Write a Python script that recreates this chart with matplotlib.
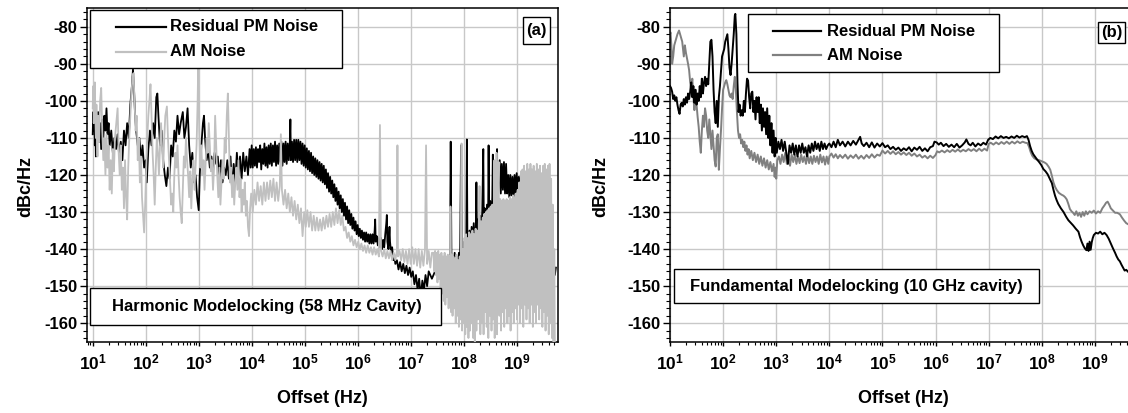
import math
import matplotlib
matplotlib.use("Agg")
import matplotlib.pyplot as plt
from matplotlib.patches import Rectangle
from matplotlib.lines import Line2D
from matplotlib.ticker import LogLocator, MultipleLocator, FuncFormatter, NullFormatter

plt.rcParams["font.family"] = ["Liberation Sans", "DejaVu Sans"]
plt.rcParams["font.weight"] = "bold"
plt.rcParams["axes.unicode_minus"] = False
plt.rcParams["mathtext.fontset"] = "custom"
plt.rcParams["mathtext.rm"] = "Liberation Sans:bold"
plt.rcParams["mathtext.it"] = "Liberation Sans:bold"
plt.rcParams["mathtext.bf"] = "Liberation Sans:bold"

# ---- data: (log10 offset [Hz], dBc/Hz) ----
# (a) harmonic modelocking, 58 MHz cavity
PM_A = [
    (1.00, -109), (1.01, -103), (1.02, -108), (1.03, -101), (1.04, -112), (1.05, -106), (1.06, -115),
    (1.07, -104), (1.09, -110), (1.10, -103), (1.12, -111), (1.14, -106), (1.16, -113), (1.18, -105),
    (1.20, -110), (1.22, -104), (1.24, -108), (1.26, -102), (1.28, -109), (1.30, -106), (1.32, -112),
    (1.35, -108), (1.38, -114), (1.41, -110), (1.44, -113), (1.47, -109), (1.50, -115), (1.53, -111),
    (1.56, -116), (1.59, -108), (1.62, -112), (1.65, -106), (1.68, -110), (1.71, -101), (1.74, -96),
    (1.76, -91.5), (1.78, -97), (1.80, -104), (1.82, -108), (1.85, -112), (1.88, -110), (1.91, -116),
    (1.94, -112), (1.97, -118), (2.00, -116), (2.02, -122), (2.05, -113), (2.08, -108), (2.11, -112),
    (2.14, -106), (2.17, -110), (2.20, -99), (2.22, -98), (2.24, -104), (2.27, -112), (2.30, -108),
    (2.33, -116), (2.36, -120), (2.39, -123), (2.42, -118), (2.45, -121), (2.48, -112), (2.51, -115),
    (2.54, -108), (2.57, -111), (2.60, -104), (2.63, -109), (2.66, -106), (2.70, -103), (2.73, -110),
    (2.76, -107), (2.79, -102), (2.82, -112), (2.85, -118), (2.88, -114), (2.91, -122), (2.94, -120),
    (2.97, -126), (3.00, -129.5), (3.02, -120), (3.05, -112), (3.08, -106), (3.10, -104), (3.12, -110),
    (3.15, -116), (3.18, -113), (3.21, -118), (3.24, -115), (3.27, -119), (3.30, -114), (3.33, -117),
    (3.36, -115), (3.39, -121), (3.42, -116), (3.45, -122), (3.48, -118), (3.51, -120), (3.54, -116),
    (3.57, -121), (3.60, -115), (3.63, -124), (3.66, -117), (3.69, -122), (3.72, -114), (3.75, -120),
    (3.78, -115), (3.81, -121), (3.84, -114), (3.87, -119), (3.90, -115), (3.93, -120), (3.96, -113),
    (3.98, -118),
    (4.00, -112), (4.02, -118), (4.04, -113), (4.06, -117.5), (4.08, -112.5), (4.10, -118), (4.12, -113),
    (4.14, -116.5), (4.16, -112), (4.18, -118.5), (4.20, -113), (4.22, -117), (4.24, -111.5), (4.26, -117.5),
    (4.28, -112.5), (4.30, -118), (4.32, -112), (4.34, -117), (4.36, -111.5), (4.38, -117.5), (4.40, -112),
    (4.42, -116.5), (4.44, -111), (4.46, -117.5), (4.48, -112), (4.50, -117), (4.52, -111.5), (4.54, -116.5),
    (4.56, -111), (4.58, -117.5), (4.60, -111.5), (4.62, -116.5), (4.64, -111), (4.66, -117), (4.68, -111.5),
    (4.70, -116), (4.72, -111), (4.73, -105), (4.74, -116), (4.76, -111), (4.78, -116.5), (4.80, -110.5),
    (4.82, -116), (4.84, -110.5), (4.86, -116.5), (4.88, -110.5), (4.90, -116), (4.92, -111), (4.94, -117),
    (4.96, -111.5), (4.98, -117.5), (5.00, -112),
    (5.02, -118), (5.04, -112.8), (5.06, -118.5), (5.08, -113.5), (5.10, -119), (5.12, -114), (5.14, -119.5),
    (5.16, -115), (5.18, -120), (5.20, -115.5), (5.22, -120.5), (5.24, -116), (5.26, -121), (5.28, -116.5),
    (5.30, -121.5), (5.32, -117), (5.34, -122), (5.36, -117.5), (5.38, -122.5), (5.40, -118.5), (5.42, -123.5),
    (5.44, -119.5), (5.46, -124.5), (5.48, -120.5), (5.50, -125), (5.52, -121.5), (5.54, -126), (5.56, -122.5),
    (5.58, -127), (5.60, -123.5), (5.62, -128), (5.64, -124.5), (5.66, -129), (5.68, -125.5), (5.70, -130),
    (5.72, -126.5), (5.74, -131), (5.76, -127.5), (5.78, -132), (5.80, -128.5), (5.82, -133), (5.84, -129.5),
    (5.86, -133.5), (5.88, -130.5), (5.90, -134.5), (5.92, -131.5), (5.94, -135), (5.96, -132.5), (5.98, -136),
    (6.00, -133.5), (6.02, -136.5), (6.04, -134.5), (6.06, -137), (6.08, -135), (6.10, -137.5), (6.12, -135.5),
    (6.14, -138), (6.16, -135.5), (6.18, -138), (6.20, -136), (6.22, -138.5), (6.24, -136), (6.26, -138.5),
    (6.28, -136), (6.30, -138.5), (6.32, -135), (6.33, -132), (6.34, -138), (6.36, -136.5), (6.38, -139),
    (6.40, -137), (6.42, -139.5), (6.44, -137), (6.46, -140), (6.48, -137.5), (6.50, -139.5), (6.52, -136),
    (6.54, -133), (6.55, -130.8), (6.56, -138), (6.58, -140), (6.60, -134), (6.61, -138), (6.63, -141),
    (6.65, -139.5), (6.67, -143), (6.69, -141.5),
    (6.71, -144), (6.74, -143), (6.77, -145.5), (6.80, -143.5), (6.83, -146), (6.86, -144), (6.89, -146.5),
    (6.92, -144.5), (6.95, -147), (6.98, -145), (7.01, -147.5), (7.04, -146), (7.07, -149.5), (7.10, -147),
    (7.13, -151), (7.16, -148), (7.19, -153), (7.22, -148.5), (7.25, -151), (7.28, -147), (7.31, -150),
    (7.34, -146), (7.40, -148), (7.46, -146), (7.52, -147), (7.58, -145), (7.64, -147), (7.70, -145),
    (7.74, -146),
    (7.755, -111), (7.77, -144), (7.79, -142), (7.81, -147), (7.83, -141), (7.85, -148), (7.87, -142),
    (7.89, -146), (7.91, -141), (7.93, -147), (7.95, -112), (7.97, -143), (7.99, -144), (8.01, -138),
    (8.03, -142), (8.05, -136), (8.06, -110.4), (8.07, -137), (8.09, -141), (8.11, -135), (8.13, -140),
    (8.15, -134), (8.17, -139), (8.19, -133), (8.21, -138), (8.23, -134), (8.24, -122), (8.25, -136),
    (8.27, -132), (8.29, -138), (8.31, -131), (8.33, -136), (8.35, -130), (8.37, -113), (8.38, -133),
    (8.40, -129), (8.42, -135), (8.44, -128), (8.46, -134), (8.47, -112), (8.48, -131), (8.50, -127),
    (8.52, -133), (8.54, -126), (8.55, -114.5), (8.56, -130), (8.58, -125), (8.60, -131), (8.62, -124),
    (8.63, -113), (8.64, -128), (8.66, -122), (8.68, -116), (8.70, -125), (8.72, -117), (8.74, -124),
    (8.76, -116.5), (8.78, -125), (8.80, -117), (8.82, -125), (8.84, -120), (8.86, -126), (8.88, -120),
    (8.90, -125.5), (8.92, -120.5), (8.94, -126), (8.96, -120), (8.98, -125), (9.00, -119.5), (9.02, -124.5),
    (9.04, -120.5), (9.06, -125), (9.08, -120), (9.10, -124.5), (9.12, -120.5), (9.14, -125), (9.17, -121),
    (9.20, -126), (9.25, -138), (9.30, -125), (9.35, -148), (9.40, -130), (9.45, -145), (9.50, -128),
    (9.55, -150), (9.60, -132), (9.65, -152), (9.69, -145), (9.72, -147), (9.74, -145),
]

AM_A = [
    (1.00, -102), (1.01, -96), (1.02, -106), (1.03, -99), (1.04, -95), (1.05, -104), (1.06, -110),
    (1.07, -101), (1.09, -115), (1.10, -104), (1.12, -111), (1.14, -100), (1.16, -96.5), (1.18, -108),
    (1.20, -116), (1.22, -110), (1.24, -120), (1.26, -109), (1.28, -118), (1.30, -112), (1.32, -124),
    (1.34, -116), (1.36, -125), (1.38, -113), (1.40, -119), (1.42, -110), (1.45, -105), (1.47, -102),
    (1.49, -114), (1.51, -120), (1.53, -112), (1.55, -124), (1.57, -118), (1.59, -129), (1.61, -116),
    (1.63, -126), (1.65, -132), (1.67, -118), (1.69, -110), (1.71, -104), (1.73, -98), (1.75, -94),
    (1.77, -92.5), (1.79, -100), (1.81, -108), (1.83, -104), (1.85, -116), (1.87, -110), (1.89, -122),
    (1.91, -115), (1.93, -126), (1.95, -131), (1.97, -135.5), (1.99, -128), (2.01, -118), (2.03, -110),
    (2.05, -104), (2.07, -100), (2.09, -95.5), (2.11, -104), (2.13, -114), (2.15, -120), (2.17, -128),
    (2.19, -118), (2.21, -110), (2.23, -114), (2.25, -120), (2.27, -112), (2.29, -106), (2.31, -113),
    (2.33, -118), (2.35, -110), (2.37, -104), (2.40, -101.5), (2.42, -110), (2.44, -116), (2.46, -122),
    (2.48, -128), (2.50, -125), (2.52, -130), (2.54, -120), (2.56, -114), (2.58, -118), (2.60, -112),
    (2.62, -120), (2.64, -126), (2.66, -130), (2.68, -133), (2.70, -124), (2.72, -115), (2.74, -118),
    (2.76, -110), (2.78, -116), (2.80, -120), (2.82, -126), (2.84, -119), (2.86, -129), (2.88, -121),
    (2.90, -116), (2.92, -124), (2.94, -118), (2.96, -112), (2.98, -100), (2.99, -91), (3.00, -97),
    (3.01, -108), (3.03, -118), (3.05, -112), (3.07, -120), (3.09, -116), (3.11, -124), (3.13, -117),
    (3.15, -110), (3.17, -114), (3.19, -106), (3.21, -112), (3.23, -119), (3.25, -116), (3.27, -124),
    (3.29, -118), (3.31, -104), (3.33, -112), (3.35, -120), (3.37, -126), (3.39, -118), (3.41, -128),
    (3.43, -122), (3.45, -116), (3.47, -121), (3.49, -110), (3.51, -114), (3.53, -104), (3.55, -98),
    (3.57, -110), (3.59, -122), (3.61, -118), (3.63, -126), (3.65, -120), (3.67, -128), (3.69, -122),
    (3.71, -118), (3.73, -124), (3.75, -116), (3.77, -126), (3.79, -121), (3.81, -130), (3.83, -124),
    (3.85, -128), (3.87, -122), (3.89, -131), (3.91, -127), (3.93, -134), (3.95, -136.5), (3.97, -129),
    (3.99, -125), (4.02, -130), (4.05, -124), (4.08, -128), (4.11, -122), (4.14, -127), (4.17, -123),
    (4.20, -128), (4.23, -122), (4.26, -127), (4.29, -122), (4.32, -126.5), (4.35, -121.5), (4.38, -126),
    (4.41, -121), (4.44, -127), (4.47, -122), (4.50, -127), (4.53, -123), (4.55, -109), (4.57, -124),
    (4.60, -128), (4.63, -124), (4.66, -129), (4.69, -125), (4.72, -130), (4.75, -126), (4.78, -131),
    (4.81, -127), (4.84, -132), (4.87, -128), (4.90, -133), (4.93, -129), (4.96, -136.5), (4.99, -130),
    (5.02, -134), (5.05, -129.5), (5.08, -134), (5.11, -130), (5.14, -135), (5.17, -131), (5.20, -135),
    (5.23, -131.5), (5.26, -135), (5.29, -132), (5.32, -135), (5.35, -131.5), (5.38, -134.5), (5.41, -131),
    (5.44, -134), (5.47, -130.5), (5.50, -134), (5.53, -130), (5.56, -133.5), (5.59, -129), (5.62, -133),
    (5.65, -129.5), (5.68, -133.5), (5.71, -131), (5.74, -135), (5.77, -134), (5.80, -137), (5.83, -135.5),
    (5.86, -138), (5.89, -136.5), (5.92, -139), (5.95, -137.5), (5.98, -139.5), (6.01, -138), (6.04, -140),
    (6.07, -138.5), (6.10, -140.5), (6.13, -139), (6.16, -141), (6.19, -139), (6.22, -141), (6.25, -139.5),
    (6.28, -141.5), (6.31, -139.5), (6.34, -141.5), (6.37, -140), (6.40, -142), (6.42, -106.5), (6.44, -140.5),
    (6.47, -142), (6.50, -140), (6.53, -142.5), (6.56, -140.5), (6.59, -142.5), (6.62, -140.5), (6.65, -143),
    (6.68, -141), (6.71, -143), (6.74, -140.5), (6.75, -112), (6.76, -142), (6.79, -140.5), (6.82, -143),
    (6.85, -140), (6.88, -143.5), (6.91, -140.5), (6.94, -144), (6.97, -140), (7.00, -144), (7.03, -139.5),
    (7.06, -144), (7.09, -140), (7.12, -144.5), (7.15, -140), (7.18, -145), (7.21, -140.5), (7.24, -144.5),
    (7.27, -140), (7.29, -112), (7.31, -144), (7.34, -140.5), (7.37, -145), (7.40, -141),
    (7.43, -141), (7.445, -146), (7.46, -140.5), (7.475, -147), (7.49, -141), (7.505, -149), (7.52, -140.5),
    (7.535, -148), (7.55, -141.5), (7.565, -151), (7.58, -141), (7.595, -152), (7.61, -142), (7.625, -154),
    (7.64, -141), (7.655, -155), (7.67, -142), (7.685, -153), (7.70, -141.5), (7.715, -156), (7.73, -142),
    (7.745, -155), (7.75, -128.5), (7.76, -157), (7.775, -141.5), (7.79, -158), (7.805, -142), (7.82, -156),
    (7.835, -142.5), (7.85, -160), (7.865, -141.5), (7.88, -158), (7.895, -143), (7.91, -161), (7.925, -142),
    (7.94, -159), (7.96, -111.5), (7.97, -162), (7.985, -140), (8.00, -160), (8.015, -137), (8.03, -163),
    (8.045, -136), (8.06, -161), (8.075, -137), (8.09, -164), (8.105, -135.5), (8.12, -162), (8.135, -136),
    (8.15, -160), (8.165, -135), (8.18, -164), (8.195, -136), (8.21, -165), (8.225, -134.5), (8.24, -162),
    (8.255, -135), (8.27, -159), (8.285, -133.5), (8.30, -123), (8.315, -163), (8.33, -132.5), (8.345, -160),
    (8.36, -131.5), (8.375, -163), (8.39, -130.5), (8.405, -157), (8.42, -130), (8.435, -161), (8.45, -129.5),
    (8.465, -164), (8.48, -129), (8.495, -158), (8.51, -128.5), (8.525, -162), (8.54, -128), (8.555, -159),
    (8.57, -127.5), (8.58, -116), (8.585, -164), (8.60, -127), (8.615, -160), (8.62, -114), (8.63, -163),
    (8.645, -126.5), (8.66, -116.5), (8.675, -158), (8.69, -126.5), (8.705, -162), (8.72, -127), (8.735, -157),
    (8.75, -126.5), (8.765, -161), (8.78, -127), (8.795, -156), (8.81, -126.5), (8.825, -160), (8.84, -127),
    (8.855, -158), (8.87, -126), (8.885, -162), (8.90, -126.5), (8.915, -157), (8.93, -125.5), (8.945, -160),
    (8.96, -126), (8.975, -156), (8.99, -125), (9.005, -159), (9.02, -124), (9.035, -155), (9.05, -122),
    (9.065, -160), (9.08, -119), (9.095, -156), (9.11, -118.5), (9.125, -161), (9.14, -117.5), (9.155, -155),
    (9.17, -119), (9.185, -159), (9.20, -117), (9.215, -156), (9.23, -118.5), (9.245, -160), (9.26, -117),
    (9.275, -155), (9.29, -118.5), (9.305, -161), (9.32, -117.5), (9.335, -157), (9.35, -119), (9.365, -160),
    (9.38, -117), (9.395, -155), (9.41, -118.5), (9.425, -159), (9.44, -117.5), (9.455, -156), (9.47, -119.5),
    (9.485, -161), (9.50, -117.5), (9.515, -157), (9.53, -117), (9.545, -162), (9.56, -118.5), (9.575, -158),
    (9.59, -117.5), (9.605, -163), (9.62, -117), (9.635, -160), (9.65, -121), (9.665, -164), (9.68, -128),
    (9.695, -165), (9.71, -140), (9.72, -165),
]

# (b) fundamental modelocking, 10 GHz cavity
PM_B = [
    (1.00, -96), (1.02, -96.5), (1.04, -97.5), (1.06, -99.5), (1.08, -98.5), (1.10, -100), (1.12, -99),
    (1.14, -101), (1.16, -102.5), (1.18, -103.5), (1.20, -101), (1.22, -100.5), (1.24, -101.5), (1.26, -99.5),
    (1.28, -101), (1.30, -99), (1.32, -100.5), (1.34, -98), (1.36, -99.5), (1.38, -97.5), (1.40, -95),
    (1.42, -99), (1.44, -96), (1.46, -100.5), (1.48, -97), (1.50, -101), (1.52, -98), (1.54, -100),
    (1.56, -96), (1.58, -99), (1.60, -94), (1.62, -98), (1.64, -95), (1.66, -93.5), (1.68, -96), (1.70, -94),
    (1.72, -95.5), (1.74, -90), (1.76, -84), (1.78, -83.5), (1.80, -88), (1.82, -97), (1.84, -103),
    (1.86, -106), (1.88, -100), (1.90, -107), (1.92, -99), (1.94, -96), (1.96, -92), (1.98, -88), (2.00, -87),
    (2.02, -86), (2.04, -84), (2.06, -83), (2.08, -82), (2.10, -86), (2.12, -91), (2.14, -93), (2.16, -90),
    (2.18, -86), (2.20, -82), (2.22, -77), (2.23, -76.5), (2.25, -82), (2.27, -95), (2.29, -103), (2.31, -101),
    (2.33, -104), (2.35, -102.5), (2.37, -104), (2.39, -100), (2.41, -103), (2.43, -98), (2.45, -94),
    (2.47, -94.5), (2.49, -99), (2.51, -102), (2.53, -98), (2.55, -97.5), (2.57, -103), (2.59, -100),
    (2.61, -105), (2.63, -99), (2.65, -103), (2.67, -99), (2.69, -106), (2.71, -101), (2.73, -108),
    (2.75, -102), (2.77, -107), (2.79, -103), (2.81, -109), (2.83, -102), (2.85, -110), (2.87, -104),
    (2.89, -112), (2.91, -106), (2.93, -114), (2.95, -108), (2.97, -115), (2.99, -110), (3.01, -114),
    (3.04, -111), (3.07, -113), (3.10, -110.5), (3.13, -113.5), (3.16, -111), (3.19, -114), (3.22, -117),
    (3.25, -112), (3.28, -114), (3.31, -111.5), (3.34, -114.5), (3.37, -112), (3.40, -115), (3.43, -112),
    (3.46, -114), (3.49, -111.5), (3.52, -114), (3.55, -112.5), (3.58, -115), (3.61, -112), (3.64, -114),
    (3.67, -111.5), (3.70, -113.5), (3.73, -111), (3.76, -113), (3.79, -111.5), (3.82, -113.5), (3.85, -111),
    (3.88, -113), (3.91, -111.5), (3.94, -113), (3.97, -112), (4.00, -111.5), (4.04, -112.5), (4.08, -111),
    (4.12, -112.5), (4.16, -110.5), (4.20, -112), (4.25, -111), (4.30, -112.3), (4.35, -111), (4.40, -112),
    (4.45, -110.8), (4.50, -111.8), (4.55, -110.5), (4.58, -109.7), (4.61, -111.5), (4.65, -112.2),
    (4.70, -111.3), (4.75, -112.5), (4.80, -111.2), (4.85, -112.6), (4.90, -111.5), (4.95, -112.3),
    (5.00, -111.4), (5.05, -112.5), (5.10, -112), (5.15, -113), (5.20, -112.4), (5.25, -113.2), (5.30, -112.6),
    (5.35, -113.5), (5.40, -112.8), (5.45, -113.3), (5.50, -112.5), (5.55, -113.6), (5.60, -112.6),
    (5.65, -113.2), (5.70, -112.4), (5.75, -113.5), (5.80, -112.8), (5.85, -113.6), (5.90, -112.5),
    (5.95, -112.2), (5.98, -111), (6.02, -111.2), (6.06, -111.8), (6.10, -111.3), (6.15, -112.2), (6.20, -111.6),
    (6.25, -112.4), (6.30, -111.8), (6.35, -112.5), (6.40, -111.6), (6.45, -112.6), (6.50, -112), (6.55, -111.2),
    (6.58, -110.4), (6.62, -111.6), (6.66, -112), (6.70, -111.3), (6.75, -112.3), (6.80, -111.5), (6.85, -112),
    (6.90, -111.3), (6.95, -111.8), (6.99, -110.5), (7.03, -110), (7.08, -110.3), (7.13, -109.6), (7.18, -110.1),
    (7.23, -109.5), (7.28, -110), (7.33, -109.7), (7.38, -110.1), (7.43, -109.6), (7.48, -110), (7.53, -109.4),
    (7.58, -109.9), (7.63, -109.5), (7.68, -109.8), (7.72, -109.5), (7.75, -110.5), (7.78, -112.2),
    (7.81, -113.5), (7.84, -114.4), (7.88, -115.2), (7.91, -115.8), (7.95, -116.5), (7.99, -117.3),
    (8.03, -118.4), (8.07, -119), (8.11, -119.8), (8.15, -121), (8.19, -122.2), (8.22, -124), (8.25, -125.6),
    (8.28, -126.8), (8.31, -127.8), (8.36, -129), (8.41, -130), (8.46, -131.3), (8.50, -132.2), (8.55, -133),
    (8.59, -133.6), (8.64, -134.5), (8.69, -135.3), (8.72, -136.8), (8.75, -138), (8.78, -139), (8.81, -139.8),
    (8.84, -140.3), (8.86, -138.5), (8.88, -140.5), (8.90, -138), (8.92, -140.2), (8.94, -138.2), (8.96, -137),
    (8.98, -136.2), (9.02, -135.6), (9.06, -135.8), (9.10, -135.3), (9.14, -136), (9.18, -135.6),
    (9.22, -136.2), (9.26, -137.2), (9.30, -138.5), (9.34, -139.8), (9.38, -141), (9.41, -142), (9.44, -142.8),
    (9.47, -143.3), (9.50, -144.2), (9.53, -145), (9.56, -145.8), (9.59, -145.6), (9.63, -146.2),
    (9.67, -146), (9.72, -146.8),
]

AM_B = [
    (1.00, -82), (1.01, -81.5), (1.03, -86), (1.04, -90), (1.06, -88), (1.08, -85), (1.11, -83.5), (1.14, -82),
    (1.17, -81), (1.20, -82.5), (1.23, -84), (1.25, -86.5), (1.26, -88), (1.28, -85), (1.30, -87), (1.32, -88.5),
    (1.34, -90), (1.36, -91.7), (1.38, -95), (1.40, -97), (1.42, -94), (1.44, -99), (1.46, -102.5), (1.48, -97),
    (1.50, -101), (1.52, -104.3), (1.54, -107), (1.56, -111), (1.58, -114), (1.60, -108), (1.62, -104),
    (1.64, -107), (1.66, -102), (1.68, -104), (1.70, -108), (1.72, -110), (1.74, -105), (1.76, -109),
    (1.78, -113), (1.80, -108), (1.82, -112), (1.84, -116), (1.86, -117.7), (1.88, -110), (1.90, -109),
    (1.92, -118.6), (1.94, -113), (1.96, -108), (1.98, -102), (2.00, -97), (2.02, -96), (2.04, -95),
    (2.06, -94.4), (2.08, -95.5), (2.10, -97), (2.12, -98.5), (2.14, -99), (2.16, -98), (2.18, -99.5),
    (2.20, -96), (2.22, -93.5), (2.24, -97), (2.26, -103), (2.28, -108), (2.30, -110), (2.32, -109),
    (2.34, -111.5), (2.36, -110.5), (2.38, -112.5), (2.40, -111), (2.42, -113.5), (2.44, -112), (2.46, -114.5),
    (2.48, -113), (2.50, -115.5), (2.53, -113.5), (2.56, -116), (2.59, -114), (2.62, -116.5), (2.65, -114.5),
    (2.68, -117), (2.71, -115), (2.74, -117.5), (2.77, -115.5), (2.80, -118), (2.83, -116), (2.86, -118.5),
    (2.89, -116.5), (2.92, -119), (2.95, -117), (2.97, -120.5), (2.99, -118), (3.00, -121), (3.02, -116),
    (3.05, -115), (3.08, -117), (3.11, -114.5), (3.14, -116.5), (3.17, -114), (3.20, -117), (3.23, -115),
    (3.26, -117.5), (3.29, -114.5), (3.32, -116.5), (3.35, -114.5), (3.38, -117), (3.41, -115), (3.44, -116.8),
    (3.47, -114.5), (3.50, -116.5), (3.53, -115), (3.56, -117), (3.59, -114.6), (3.62, -116.8), (3.65, -115),
    (3.68, -117), (3.71, -114.8), (3.74, -116.5), (3.77, -115), (3.80, -117), (3.83, -114.5), (3.86, -116.6),
    (3.89, -115), (3.92, -117.2), (3.95, -115), (3.98, -117), (4.00, -115), (4.04, -114.2), (4.08, -115.3),
    (4.12, -114.4), (4.16, -115.5), (4.20, -114.6), (4.25, -115.4), (4.30, -114.5), (4.35, -115.6),
    (4.40, -114.7), (4.45, -115.4), (4.50, -114.5), (4.55, -115.6), (4.60, -114.8), (4.65, -115.6),
    (4.70, -114.6), (4.75, -115.4), (4.80, -114.4), (4.85, -115.3), (4.90, -114.5), (4.95, -114.8),
    (5.00, -113.4), (5.05, -114.2), (5.10, -113.5), (5.15, -114.3), (5.20, -113.6), (5.25, -114.4),
    (5.30, -113.8), (5.35, -114.5), (5.40, -113.9), (5.45, -114.6), (5.50, -114), (5.55, -114.8), (5.60, -114.2),
    (5.65, -115), (5.70, -114.5), (5.75, -115.3), (5.80, -114.8), (5.85, -115.5), (5.90, -114.8), (5.95, -115.4),
    (6.00, -114.6), (6.03, -113.6), (6.07, -113.9), (6.12, -113.4), (6.17, -113.9), (6.22, -113.3),
    (6.27, -113.8), (6.32, -113.2), (6.37, -113.7), (6.42, -113.1), (6.47, -113.7), (6.52, -113.2),
    (6.57, -113.6), (6.62, -113), (6.67, -113.5), (6.72, -113), (6.77, -113.6), (6.82, -112.9), (6.87, -113.5),
    (6.92, -112.9), (6.97, -113.4), (7.00, -111.6), (7.04, -111.3), (7.09, -111.8), (7.14, -111.2),
    (7.19, -111.7), (7.24, -111.1), (7.29, -111.6), (7.34, -111), (7.39, -111.6), (7.44, -111), (7.49, -111.5),
    (7.54, -110.9), (7.59, -111.4), (7.64, -111), (7.69, -111.3), (7.73, -111.4), (7.76, -112.4), (7.79, -113.8),
    (7.82, -114.8), (7.86, -115.5), (7.90, -115.8), (7.95, -116), (8.00, -116.3), (8.05, -116.6), (8.09, -117),
    (8.13, -117.8), (8.16, -118.6), (8.19, -120.2), (8.22, -122), (8.25, -123.2), (8.28, -124), (8.32, -124.8),
    (8.37, -125.3), (8.41, -125.6), (8.44, -126), (8.47, -126.6), (8.50, -127.8), (8.53, -129.2),
    (8.56, -129.8), (8.59, -130.2), (8.62, -130.8), (8.65, -129.8), (8.68, -131), (8.71, -130.2),
    (8.74, -131.3), (8.77, -130), (8.80, -131), (8.83, -129.8), (8.86, -130.6), (8.90, -129.8), (8.94, -130.2),
    (8.98, -129.6), (9.02, -130.4), (9.06, -129.8), (9.10, -130.2), (9.14, -129), (9.18, -128.2),
    (9.21, -127.5), (9.24, -127.2), (9.27, -128), (9.30, -129), (9.34, -129.6), (9.38, -130.2), (9.42, -130.2),
    (9.47, -130.6), (9.51, -131.5), (9.55, -132.3), (9.59, -133), (9.64, -133.4), (9.70, -134.2),
]

SERIES_LABELS = ["Residual PM Noise", "AM Noise"]
PANEL_TAGS = ["(a)", "(b)"]
PANEL_NOTES = ["Harmonic Modelocking (58 MHz Cavity)", "Fundamental Modelocking (10 GHz cavity)"]
Y_TICKS = [-160, -150, -140, -130, -120, -110, -100, -90, -80]
X_DECADES = [1, 2, 3, 4, 5, 6, 7, 8, 9]


def unzip(pairs):
    return [10.0 ** p[0] for p in pairs], [p[1] for p in pairs]


W, H = 1128, 413
fig = plt.figure(figsize=(W / 100, H / 100), dpi=100)
fig.patch.set_facecolor("white")


def fx(x):
    return x / W


def fy(y):
    return 1.0 - y / H


def frame_box(x0, y0, x1, y1, lw=1.0):
    fig.add_artist(Rectangle((fx(x0), fy(y1)), (x1 - x0) / W, (y1 - y0) / H,
                             transform=fig.transFigure, facecolor="white",
                             edgecolor="black", lw=lw, zorder=5))


def fig_text(x, y, s, ha="left", size=12):
    fig.text(fx(x), fy(y), s, ha=ha, va="center", fontsize=size,
             fontweight="bold", zorder=6)


def legend_line(x0, x1, y, color):
    fig.add_artist(Line2D([fx(x0), fx(x1)], [fy(y), fy(y)], transform=fig.transFigure,
                          color=color, lw=1.6, zorder=6))


def style_axes(ax, xmin_exp, ylabel_x):
    ax.set_xscale("log")
    ax.set_xlim(10 ** xmin_exp, 10 ** 9.774)
    ax.set_ylim(-165, -75)
    ax.xaxis.set_major_locator(LogLocator(base=10, numticks=20))
    ax.xaxis.set_minor_locator(LogLocator(base=10, subs=range(2, 10), numticks=20))
    ax.xaxis.set_minor_formatter(NullFormatter())
    ax.xaxis.set_major_formatter(FuncFormatter(
        lambda v, p: r"$\mathrm{10^{%d}}$" % round(math.log10(v))))
    ax.set_xticks([10 ** d for d in X_DECADES])
    ax.set_yticks(Y_TICKS)
    ax.yaxis.set_minor_locator(MultipleLocator(2))
    ax.tick_params(axis="x", which="major", direction="out", length=3.2, width=1.0,
                   pad=4.5, labelsize=12.5, top=False)
    ax.tick_params(axis="x", which="minor", direction="out", length=1.8, width=0.8, top=False)
    ax.tick_params(axis="y", which="major", direction="out", length=5, width=1.0,
                   pad=2, labelsize=12, right=False)
    ax.tick_params(axis="y", which="minor", direction="out", length=3, width=0.8, right=False)
    for lab in ax.get_yticklabels():
        lab.set_fontweight("bold")
    ax.grid(True, which="major", color="#c8c8c8", lw=1.0)
    ax.set_axisbelow(True)
    for sp in ax.spines.values():
        sp.set_linewidth(1.1)
        sp.set_color("black")
    ax.set_xlabel("Offset (Hz)", fontsize=13, fontweight="bold")
    ax.set_ylabel("dBc/Hz", fontsize=13, fontweight="bold")
    ax.xaxis.set_label_coords(0.5, -0.145)
    ax.yaxis.set_label_coords(ylabel_x, 0.465)


ax_a = fig.add_axes([87.3 / W, 1 - 341.7 / H, 470.4 / W, 333.4 / H])
ax_b = fig.add_axes([670.0 / W, 1 - 341.7 / H, 466.0 / W, 333.4 / H])

# panel (a): PM underneath, AM drawn over it
x, y = unzip(PM_A)
ax_a.plot(x, y, color="black", lw=1.3, zorder=2)
x, y = unzip(AM_A)
ax_a.plot(x, y, color="#c0c0c0", lw=1.3, zorder=3)
style_axes(ax_a, 0.898, -0.113)

# panel (b)
x, y = unzip(AM_B)
ax_b.plot(x, y, color="#808080", lw=1.4, zorder=2)
x, y = unzip(PM_B)
ax_b.plot(x, y, color="black", lw=1.4, zorder=3)
style_axes(ax_b, 1.0, -0.131)

# legend and labels, panel (a)
frame_box(90, 10, 342.4, 68.3)
legend_line(115.8, 166.2, 26.5, "black")
legend_line(115.8, 166.2, 51.5, "#c0c0c0")
fig_text(170, 26.5, SERIES_LABELS[0])
fig_text(170, 51.5, SERIES_LABELS[1])
frame_box(523.3, 16.7, 550, 44.3)
fig_text(536.7, 30.5, PANEL_TAGS[0], ha="center")
frame_box(90, 288.3, 441, 325)
fig_text(267, 306.7, PANEL_NOTES[0], ha="center")

# legend and labels, panel (b)
frame_box(747.5, 14, 999, 71.7)
legend_line(772.6, 821.2, 31, "black")
legend_line(772.6, 821.2, 55, "#808080")
fig_text(827.3, 31, SERIES_LABELS[0])
fig_text(827.3, 55, SERIES_LABELS[1])
frame_box(1098, 21.7, 1125, 42.7)
fig_text(1111.5, 32, PANEL_TAGS[1], ha="center")
frame_box(674.4, 269.3, 1038.8, 302.7)
fig_text(856.6, 286, PANEL_NOTES[1], ha="center")

fig.savefig("out.png", dpi=100, facecolor="white")
